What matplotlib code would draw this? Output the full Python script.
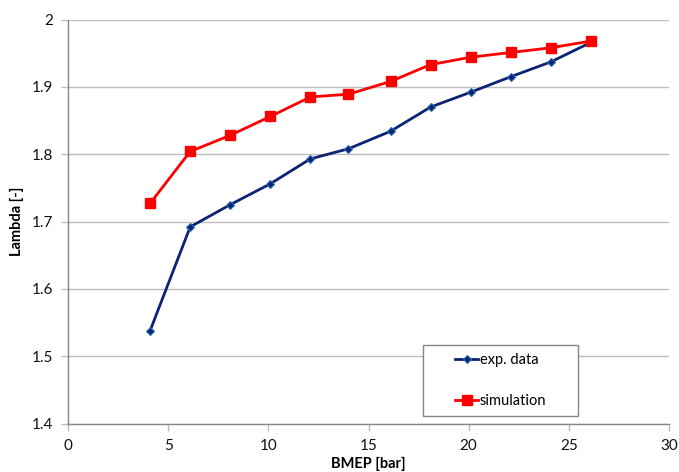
import matplotlib.pyplot as plt
from matplotlib.patches import Rectangle

plt.rcParams['font.family'] = ['Lato', 'DejaVu Sans']

# données
bmep = [4.1, 6.1, 8.1, 10.1, 12.1, 14.0, 16.1, 18.1, 20.1, 22.1, 24.1, 26.1]
lambda_exp = [1.538, 1.692, 1.725, 1.756, 1.793, 1.808, 1.834, 1.870, 1.892, 1.915, 1.937, 1.966]
lambda_sim = [1.727, 1.804, 1.828, 1.856, 1.885, 1.889, 1.908, 1.933, 1.944, 1.951, 1.958, 1.968]

x_ticks = [0, 5, 10, 15, 20, 25, 30]
y_ticks = [1.4, 1.5, 1.6, 1.7, 1.8, 1.9, 2.0]
y_labels = ['1.4', '1.5', '1.6', '1.7', '1.8', '1.9', '2']

W, H = 679, 472
fig = plt.figure(figsize=(W / 100, H / 100), dpi=100)
ax = fig.add_axes([68 / W, 1 - 423.5 / H, (669 - 68) / W, (423.5 - 19.5) / H])

ax.plot(bmep, lambda_exp, color='#0b2370', linewidth=2, marker='D', markersize=4.5,
        markerfacecolor='#0b2370', markeredgecolor='#2a6db5', markeredgewidth=0.8,
        label='exp. data')
ax.plot(bmep, lambda_sim, color='#ff0000', linewidth=2, marker='s', markersize=7,
        label='simulation')

ax.set_xlim(0, 30)
ax.set_ylim(1.4, 2.0)
ax.set_xticks(x_ticks)
ax.set_yticks(y_ticks)
ax.set_yticklabels(y_labels)
ax.grid(axis='y', color='#bdbdbd', linewidth=1)
ax.set_axisbelow(True)

for s in ['top', 'right']:
    ax.spines[s].set_visible(False)
for s in ['left', 'bottom']:
    ax.spines[s].set_color('#868686')
    ax.spines[s].set_linewidth(1)
ax.tick_params(axis='both', colors='#bdbdbd', length=5, width=1, pad=6,
               labelsize=11, labelcolor='#111111')

ax.set_xlabel('BMEP [bar]', fontsize=10.5, fontweight='bold', labelpad=3)
ax.set_ylabel('Lambda [-]', fontsize=10.5, fontweight='bold', labelpad=5)

# cadre de la légende
ax.add_patch(Rectangle((423 / W, 1 - 416 / H), 155 / W, 71 / H,
                       transform=fig.transFigure, facecolor='white',
                       edgecolor='#868686', linewidth=1, zorder=5, clip_on=False))
leg = ax.legend(loc='center', bbox_to_anchor=(500.5 / W, 1 - 380.5 / H),
                bbox_transform=fig.transFigure, frameon=False, fontsize=10.5,
                labelspacing=1.8, handlelength=1.6, handletextpad=0.1)
leg.set_zorder(6)

fig.savefig('out.png', dpi=100)
